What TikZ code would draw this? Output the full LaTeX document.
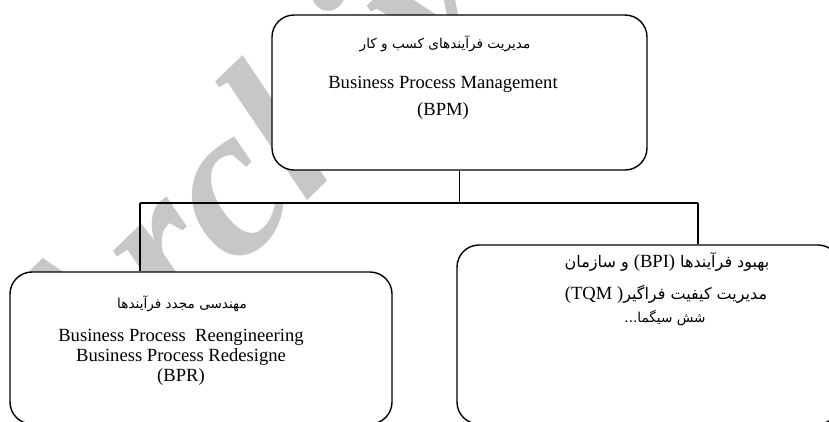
\documentclass[tikz,border=0pt]{standalone}
\usepackage{fontspec}
\setmainfont{Liberation Serif}
\newfontfamily\fafont[Script=Arabic]{DejaVu Sans}
\TeXXeTstate=1
\usepackage{tikz}
\usetikzlibrary{positioning, calc}

\begin{document}
\begin{tikzpicture}[x=1pt, y=-1pt,
      box/.style={draw=black, fill=white, line width=1.4pt,
                  rounded corners=22pt, inner sep=0pt},
      en/.style={font=\fontsize{18.6}{20}\selectfont, anchor=base, inner sep=0pt},
      fa/.style={font=\fontsize{13.6}{16}\fafont, anchor=base, inner sep=0pt},
      falarge/.style={fa, font=\fontsize{16}{18}\fafont},
      link/.style={line width=1.2pt, black},
      wmark/.style={text=black!22, font=\fontsize{215}{215}\selectfont\bfseries\itshape,
                    anchor=base west, inner sep=0pt}
    ]
      \useasboundingbox (0,0) rectangle (829,421);
      \clip (0,0) rectangle (829,421);

      \node[wmark, rotate=44] (wm) at (72,428) {Archive of SID};

      \node[box, minimum width=375pt, minimum height=155pt] (bpm) at (459.5,92.5) {};
      \node[box, minimum width=382pt, minimum height=152pt] (bpr) at (201,348) {};
      \node[box, minimum width=383pt, minimum height=179pt] (bpi) at (648.5,334.5) {};

      \coordinate (busL) at (140,203);
      \coordinate (busR) at (698,203);
      \draw[link] (bpm.south) -- (bpm.south |- busL);
      \draw[link] (busL) -- (busR);
      \draw[link] (busL) -- (busL |- bpr.north);
      \draw[link] (busR) -- (busR |- bpi.north);

      \node[fa] (bpm1) at (445,48) {\beginR مدیریت فرآیندهای کسب و کار\endR};
      \node[en] (bpm2) at (443,88) {Business Process Management};
      \node[en] (bpm3) at (443,115) {(BPM)};

      \node[fa] (bpr1) at (182,308) {\beginR مهندسی مجدد فرآیندها\endR};
      \node[en] (bpr2) at (181,341) {Business Process\ \ Reengineering};
      \node[en] (bpr3) at (181,361) {Business Process Redesigne};
      \node[en] (bpr4) at (181,381) {(BPR)};

      \node[falarge] (bpi1) at (667,267) {\beginR بهبود فرآیندها \beginL{\fontsize{18.6}{20}\rmfamily(BPI)}\endL{} و سازمان\endR};
      \node[falarge] (bpi2) at (666,299) {\beginR مدیریت کیفیت فراگیر\beginL{\fontsize{18.6}{20}\rmfamily(TQM )}\endL\endR};
      \node[fa] (bpi3) at (665,322) {\beginR شش سیگما...\endR};
\end{tikzpicture}
\end{document}
